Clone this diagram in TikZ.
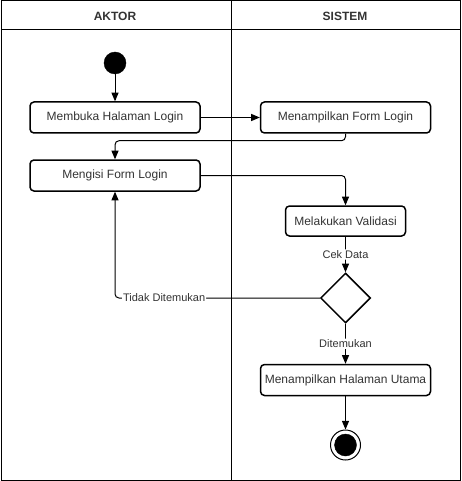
\documentclass[tikz,border=0pt]{standalone}
\usepackage{fontspec}
\setmainfont{Liberation Sans}
\usepackage{xcolor}
\usepackage{tikz}
\usetikzlibrary{shapes,arrows}
\usetikzlibrary{positioning}
\definecolor{txtgray}{HTML}{333333}
\tikzstyle{block} = [rectangle, draw, line width=1.5pt, rounded corners=4pt,
    text=txtgray, minimum width=170pt, minimum height=31pt,
    font=\fontsize{12}{14}\selectfont]
\tikzstyle{line} = [draw, line width=1pt, -triangle 45, rounded corners=4pt]
\tikzstyle{dot} = [draw, circle, fill=black, inner sep=0pt, minimum size=22pt]
\tikzstyle{lane} = [draw, line width=1pt]
\tikzstyle{head} = [font=\bfseries\fontsize{12}{14}\selectfont, text=txtgray]
\tikzstyle{lbl} = [fill=white, inner sep=1pt, text=txtgray,
    font=\fontsize{11}{13}\selectfont]
\tikzstyle{decision} = [diamond, draw, line width=1.5pt, minimum size=50pt,
    inner sep=0pt, aspect=1]

\begin{document}
\begin{tikzpicture}[x=1pt, y=1pt, node distance=2cm]
  \useasboundingbox (0,0) rectangle (461,-481);
  % Swimlanes
  \path [lane] (1,-1) rectangle (460,-480);
  \path [lane] (1,-30) -- (460,-30);
  \path [lane] (231,-1) -- (231,-480);
  \node [head] (aktor) at (115,-16) {AKTOR};
  \node [head] (sistem) at (345,-16) {SISTEM};

  % Place nodes
  \node [dot] (start) at (115,-63) {};
  \node [block, below of=start, node distance=54.5pt] (buka) {Membuka Halaman Login};
  \node [block, right of=buka, node distance=230.5pt] (tampilform) {Menampilkan Form Login};
  \node [block, below of=buka, node distance=58pt] (isi) {Mengisi Form Login};
  \node [block, below of=tampilform, node distance=103.5pt, minimum width=120pt,
         minimum height=30pt] (validasi) {Melakukan Validasi};
  \node [decision, below of=validasi, node distance=77pt] (cek) {};
  \node [block, below of=cek, node distance=82pt] (utama) {Menampilkan Halaman Utama};
  \node [draw, circle, line width=1pt, minimum size=30pt, below of=utama,
         node distance=65pt] (finish) {};
  \node [dot] (finishin) at (finish) {};

  % Draw edges
  \path [line] (start) -- (buka);
  \path [line] (buka) -- (tampilform);
  \path [line] (tampilform.south) -- ++(0,-7) -| (isi.north);
  \path [line] (isi.east) -| (validasi.north);
  \path [line] (validasi) -- node [lbl] {Cek Data} (cek);
  \path [line] (cek.west) -| node [lbl, pos=0.38] {Tidak Ditemukan} (isi.south);
  \path [line] (cek) -- node [lbl] {Ditemukan} (utama);
  \path [line] (utama) -- (finish);

\end{tikzpicture}
\end{document}
